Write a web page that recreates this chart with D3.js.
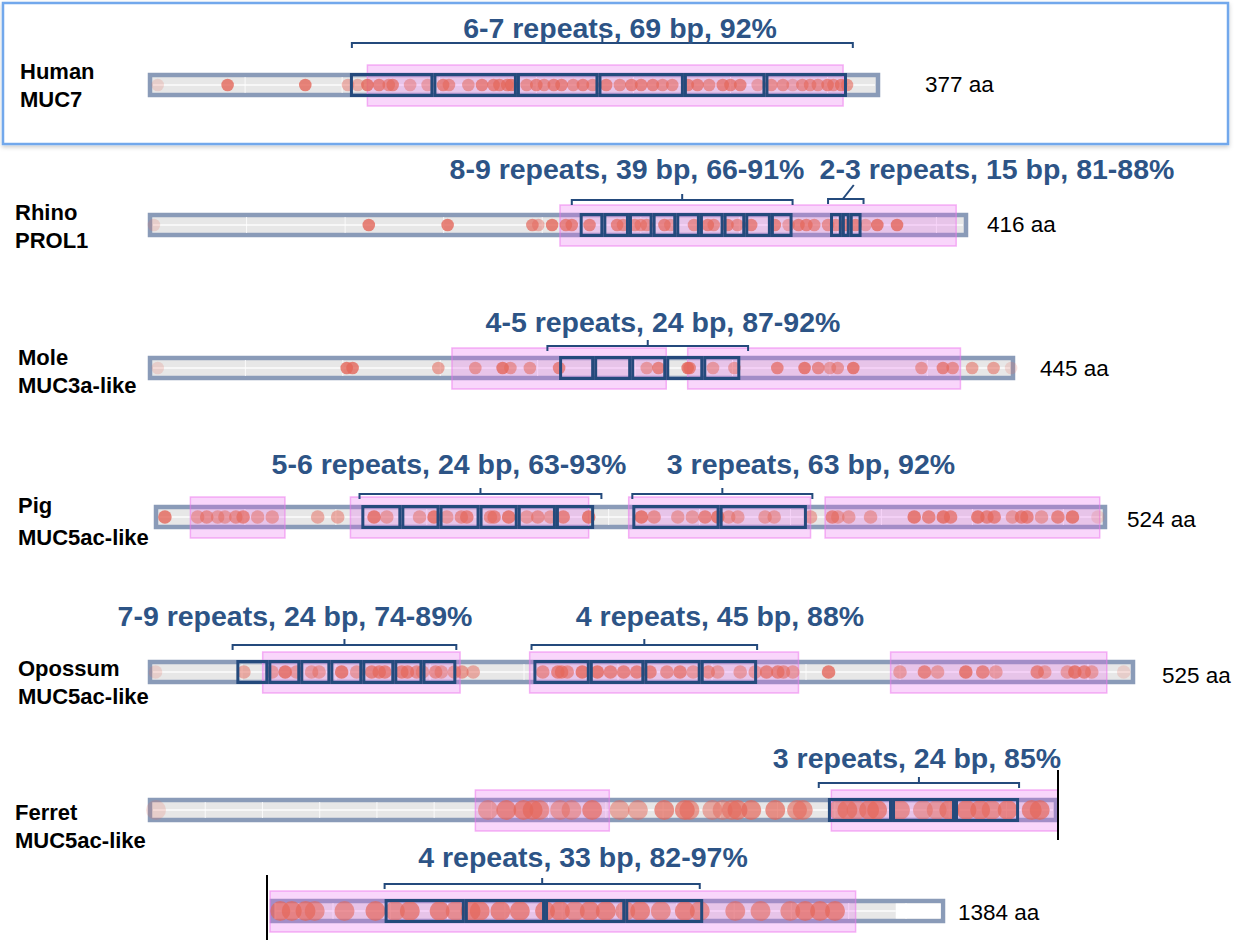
<!DOCTYPE html>
<html>
<head>
<meta charset="utf-8">
<script src="https://cdn.jsdelivr.net/npm/d3@7"></script>
<style>
  html, body { margin: 0; padding: 0; background: #fff; }
  svg { display: block; }
</style>
</head>
<body>
<script>
// ---- Protein labels and lengths (aa) ----
const speciesNames = ["Human", "Rhino", "Mole", "Pig", "Opossum", "Ferret"];
const proteinNames = ["MUC7", "PROL1", "MUC3a-like", "MUC5ac-like", "MUC5ac-like", "MUC5ac-like"];
const proteinLengths = [377, 416, 445, 524, 525, 1384];
const lengthLabels = ["377 aa", "416 aa", "445 aa", "524 aa", "525 aa", "1384 aa"];

// ---- O-glycosylation sites: [residue position, opacity] ----
const humanSites = [[5,.2],[41,.8],[81,.8],[103,.45],[108,.45],[113,.8],[119,.7],[124,.6],[126,.7],[135,.45],[144,.45],[152,.7],[155,.6],[165,.55],[172,.7],[178,.7],[181,.7],[185,.7],[187,.8],[195,.6],[200,.7],[204,.6],[209,.7],[213,.7],[219,.6],[224,.7],[229,.6],[236,.7],[243,.6],[249,.7],[254,.7],[260,.7],[265,.6],[270,.6],[278,.7],[283,.7],[289,.6],[296,.7],[300,.7],[305,.7],[314,.45],[321,.6],[327,.6],[332,.4],[337,.6],[341,.6],[345,.6],[350,.7],[353,.6],[357,.7],[360,.6]];
const rhinoSites = [[3,.2],[112,.8],[152,.8],[195,.7],[198,.45],[205,.8],[212,.7],[215,.7],[224,.7],[238,.7],[241,.6],[247,.6],[250,.6],[253,.6],[262,.7],[265,.5],[277,.6],[284,.7],[287,.6],[294,.7],[299,.6],[306,.7],[318,.7],[325,.45],[330,.7],[334,.7],[338,.6],[345,.6],[349,.6],[354,.7],[359,.7],[364,.45],[370,.8],[380,.8]];
const moleSites = [[5,.2],[102,.8],[105,.8],[149,.55],[168,.55],[182,.8],[186,.55],[196,.55],[211,.7],[256,.5],[262,.7],[277,.8],[278,.7],[290,.5],[301,.5],[323,.7],[337,.8],[344,.65],[350,.5],[354,.55],[362,.8],[397,.55],[408,.7],[413,.6],[423,.55],[434,.55],[443,.2]];
const pigSites = [[6,.8],[24,.5],[29,.6],[35,.5],[39,.5],[45,.6],[49,.7],[57,.5],[65,.5],[90,.5],[101,.5],[121,.8],[128,.5],[146,.5],[154,.8],[161,.5],[169,.6],[172,.7],[185,.6],[187,.7],[195,.8],[205,.5],[211,.6],[218,.5],[225,.7],[239,.8],[268,.8],[275,.6],[288,.5],[296,.5],[303,.7],[310,.8],[316,.5],[321,.5],[336,.5],[341,.5],[361,.5],[373,.7],[376,.5],[382,.5],[394,.5],[418,.8],[426,.7],[434,.8],[438,.7],[453,.8],[458,.7],[462,.7],[472,.5],[477,.7],[480,.7],[488,.5],[497,.7],[505,.8],[519,.2]];
const opossumSites = [[4,.2],[51,.5],[66,.5],[73,.8],[79,.5],[87,.5],[91,.5],[103,.8],[111,.5],[119,.7],[123,.7],[126,.7],[135,.7],[138,.7],[143,.6],[146,.5],[153,.6],[156,.5],[163,.5],[167,.6],[173,.5],[210,.6],[218,.7],[220,.7],[223,.6],[231,.8],[239,.8],[246,.7],[253,.7],[260,.7],[267,.7],[276,.6],[283,.7],[290,.5],[298,.6],[303,.5],[315,.5],[323,.5],[329,.7],[335,.7],[338,.6],[343,.5],[362,.8],[400,.5],[413,.7],[420,.5],[435,.8],[444,.7],[451,.5],[473,.7],[477,.5],[489,.5],[493,.8],[498,.7],[502,.5],[519,.2]];
const ferretSites = [[7,.2],[297,.5],[313,.7],[328,.7],[336,.7],[342,.6],[360,.5],[370,.5],[388,.7],[412,.5],[428,.5],[451,.7],[469,.7],[473,.6],[493,.5],[502,.5],[510,.6],[515,.7],[527,.7],[548,.7],[567,.6],[572,.6],[603,.5],[611,.7],[619,.5],[630,.7],[637,.7],[657,.6],[677,.5],[689,.5],[700,.7],[715,.7],[727,.7],[737,.6],[751,.7],[772,.7],[779,.7],[804,.7],[814,.7],[826,.7],[834,.6],[860,.6],[887,.7],[904,.6],[917,.7],[943,.7],[957,.6],[970,.7],[978,.7],[996,.7],[1013,.7],[1035,.7],[1048,.7],[1061,.6],[1074,.7],[1088,.7],[1105,.6],[1118,.7],[1136,.6],[1157,.7],[1170,.6],[1201,.6],[1223,.6],[1249,.6],[1262,.7],[1275,.7],[1288,.7]];

// ---- Mucin-like regions (start, end aa) ----
const humanRegions = [[113,358]];
const rhinoRegions = [[209,410]];
const moleRegions = [[156,266],[277,417]];
const pigRegions = [[20,72],[108,239],[261,361],[369,520]];
const opossumRegions = [[61,166],[203,346],[395,510]];
const ferretRegions = [[286,403],[597,1306]];

// ---- Tandem repeat unit boundaries (aa) ----
const humanRepeats = [[104,147,190,232,276,318,360]];
const rhinoRepeats = [[219,231,244,256,268,280,292,303,316,327],[346,352,356,362]];
const moleRepeats = [[211,229,248,266,285,304]];
const pigRepeats = [[114,136,157,179,200,221,242],[263,311,359]];
const opossumRepeats = [[47,64,81,97,114,131,146,164],[205,235,264,294,324]];
const ferretRepeats = [[594,650,705,761],[895,965,1035,1105,1173]];

// ---- Repeat annotations: text and bracket span (aa) ----
const humanNotes = [["6-7 repeats, 69 bp, 92%", 105, 363]];
const rhinoNotes = [["8-9 repeats, 39 bp, 66-91%", 215, 327], ["2-3 repeats, 15 bp, 81-88%", 345, 363]];
const moleNotes = [["4-5 repeats, 24 bp, 87-92%", 205, 308]];
const pigNotes = [["5-6 repeats, 24 bp, 63-93%", 113, 246], ["3 repeats, 63 bp, 92%", 263, 362]];
const opossumNotes = [["7-9 repeats, 24 bp, 74-89%", 45, 164], ["4 repeats, 45 bp, 88%", 204, 324]];
const ferretNotes = [["3 repeats, 24 bp, 85%", 586, 761], ["4 repeats, 33 bp, 82-97%", 895, 1170]];

// Ferret sequence drawn without fill beyond this residue
const ferretFilledTo = 1341;

// ---- Layout ----
const W = 1244, H = 940;
const rowsSites = [humanSites, rhinoSites, moleSites, pigSites, opossumSites, ferretSites];
const rowsRegions = [humanRegions, rhinoRegions, moleRegions, pigRegions, opossumRegions, ferretRegions];
const rowsRepeats = [humanRepeats, rhinoRepeats, moleRepeats, pigRepeats, opossumRepeats, ferretRepeats];
const rowsNotes = [humanNotes, rhinoNotes, moleNotes, pigNotes, opossumNotes, ferretNotes];

// each track: row index, residue span, pixel span, centre line, dot radius
const tracks = [
  { row: 0, d: [0, 377], x: [148, 880], y: 85, r: 6.3 },
  { row: 1, d: [0, 416], x: [148, 968], y: 225, r: 6.3 },
  { row: 2, d: [0, 445], x: [148, 1015], y: 368, r: 6.3 },
  { row: 3, d: [0, 524], x: [154, 1107], y: 517, r: 6.8 },
  { row: 4, d: [0, 525], x: [148, 1135], y: 672, r: 6.8 },
  { row: 5, d: [0, 795], x: [148, 1058], y: 810, r: 10, cutRight: true },
  { row: 5, d: [795, 1384], x: [270, 945], y: 911, r: 10, cutLeft: true, last: true }
];

// annotation placement: [title centre x, title baseline, bracket y, diagonal tick]
const notePlacement = [
  [[620, 38, 43, false]],
  [[627, 179, 200, false], [997, 179, 199, true]],
  [[663, 332, 346, false]],
  [[449, 474, 494, false], [811, 474, 494, false]],
  [[295, 626, 645, false], [720, 626, 645, false]],
  [[917, 768, 783, false], [583, 867, 884, false]]
];

// label placement: [x, first baseline, second baseline]
const labelPlacement = [[20, 79, 107], [15, 220, 248], [18, 365, 393], [18, 513, 545], [18, 676, 704], [15, 820, 848]];
const lengthPlacement = [[925, 92], [987, 232], [1040, 376], [1127, 527], [1162, 683], [958, 920]];

const C = {
  barStroke: "#8a9bb8",
  barFill: "#e7e7e7",
  region: "rgba(232,105,240,0.27)",
  regionEdge: "rgba(236,120,236,0.55)",
  dot: "#e4675a",
  repeat: "#244a7c",
  note: "#2d5486",
  highlight: "#72a8ec"
};

const svg = d3.select("body").append("svg").attr("width", W).attr("height", H)
  .style("font-family", "'Liberation Sans', Arial, Helvetica, sans-serif");

const defs = svg.append("defs");
const shadow = defs.append("filter").attr("id", "boxShadow").attr("x", "-5%").attr("y", "-10%").attr("width", "110%").attr("height", "125%");
shadow.append("feDropShadow").attr("dx", 0).attr("dy", 2).attr("stdDeviation", 2).attr("flood-color", "#000").attr("flood-opacity", 0.2);

// Highlight frame around the human MUC7 row
svg.append("rect").attr("x", 3).attr("y", 3).attr("width", 1225).attr("height", 141)
  .attr("fill", "#fff").attr("stroke", C.highlight).attr("stroke-width", 2.5)
  .attr("filter", "url(#boxShadow)");

const clip = (a, b, d) => [Math.max(a, d[0]), Math.min(b, d[1])];

tracks.forEach(t => {
  const x = d3.scaleLinear().domain(t.d).range(t.x);
  const g = svg.append("g");
  const y = t.y;
  const x0 = t.x[0], x1 = t.x[1];

  // protein backbone
  g.append("rect").attr("x", x0 + 2).attr("y", y - 10).attr("width", x1 - x0 - 4).attr("height", 20)
    .attr("fill", C.barFill).attr("stroke", C.barStroke).attr("stroke-width", 4.5);
  if (t.last) {
    const xf = x(ferretFilledTo);
    g.append("rect").attr("x", xf).attr("y", y - 7.5).attr("width", x1 - 2 - 2.25 - xf).attr("height", 15)
      .attr("fill", "#fff");
  }
  // faint grid every 50 residues and centre stripe
  const ticks = d3.range(Math.ceil(t.d[0] / 50) * 50, t.d[1], 50).filter(v => v > t.d[0]);
  g.selectAll("line.grid").data(ticks).join("line").attr("class", "grid")
    .attr("x1", d => x(d)).attr("x2", d => x(d)).attr("y1", y - 8).attr("y2", y + 8)
    .attr("stroke", "#fff").attr("stroke-width", 1).attr("opacity", 0.8);
  g.append("line").attr("x1", x0 + 5).attr("x2", (t.last ? x(ferretFilledTo) : x1 - 5)).attr("y1", y).attr("y2", y)
    .attr("stroke", "#fff").attr("stroke-width", 2).attr("opacity", 0.7);

  // mucin-like regions
  const regions = rowsRegions[t.row].map(([a, b]) => clip(a, b, t.d)).filter(([a, b]) => b > a);
  g.selectAll("rect.region").data(regions).join("rect").attr("class", "region")
    .attr("x", d => x(d[0])).attr("width", d => x(d[1]) - x(d[0]))
    .attr("y", y - 20).attr("height", 41)
    .attr("fill", C.region).attr("stroke", C.regionEdge).attr("stroke-width", 1.5);

  // glycosylation sites
  const sites = rowsSites[t.row].filter(d => d[0] >= t.d[0] && d[0] <= t.d[1]);
  g.selectAll("circle").data(sites).join("circle")
    .attr("cx", d => x(d[0])).attr("cy", y).attr("r", t.r)
    .attr("fill", C.dot).attr("fill-opacity", d => d[1]);

  // tandem repeat units
  rowsRepeats[t.row].forEach(bounds => {
    if (bounds[0] < t.d[0] || bounds[0] >= t.d[1]) return;
    const units = d3.pairs(bounds);
    g.selectAll(null).data(units).join("rect")
      .attr("x", d => x(d[0]) + 1.5).attr("width", d => x(d[1]) - x(d[0]) - 3)
      .attr("y", y - 10.5).attr("height", 21)
      .attr("fill", "none").attr("stroke", C.repeat).attr("stroke-width", 3);
  });

  // annotations with brackets
  rowsNotes[t.row].forEach((n, i) => {
    const [text, a, b] = n;
    if (a < t.d[0] || a >= t.d[1]) return;
    const [tx, ty, by, diag] = notePlacement[t.row][i];
    const xa = x(a), xb = x(b), xm = (xa + xb) / 2;
    g.append("path")
      .attr("d", `M${xa},${by + 5}V${by}H${xb}V${by + 5}`)
      .attr("fill", "none").attr("stroke", C.repeat).attr("stroke-width", 2);
    g.append("path")
      .attr("d", diag ? `M${xm - 3},${by}L${xm + 8},${by - 14}` : `M${xm},${by}V${by - 6}`)
      .attr("fill", "none").attr("stroke", C.repeat).attr("stroke-width", 2);
    g.append("text").attr("x", tx).attr("y", ty).attr("text-anchor", "middle")
      .attr("font-size", 28.5).attr("font-weight", "bold").attr("fill", C.note).text(text);
  });

  // split markers for the wrapped ferret sequence
  if (t.cutRight) {
    g.append("line").attr("x1", x1).attr("x2", x1).attr("y1", y - 40).attr("y2", y + 30)
      .attr("stroke", "#000").attr("stroke-width", 2);
  }
  if (t.cutLeft) {
    g.append("line").attr("x1", x0 - 3).attr("x2", x0 - 3).attr("y1", y - 36).attr("y2", y + 30)
      .attr("stroke", "#000").attr("stroke-width", 2);
  }
});

// species / protein labels
speciesNames.forEach((s, i) => {
  const [lx, y1, y2] = labelPlacement[i];
  const t = svg.append("text").attr("x", lx).attr("font-size", 22).attr("font-weight", "bold").attr("fill", "#000");
  t.append("tspan").attr("x", lx).attr("y", y1).text(s);
  t.append("tspan").attr("x", lx).attr("y", y2).text(proteinNames[i]);
});

// length labels
lengthLabels.forEach((s, i) => {
  const [lx, ly] = lengthPlacement[i];
  svg.append("text").attr("x", lx).attr("y", ly).attr("font-size", 22.5).attr("fill", "#000").text(s);
});
</script>
</body>
</html>
